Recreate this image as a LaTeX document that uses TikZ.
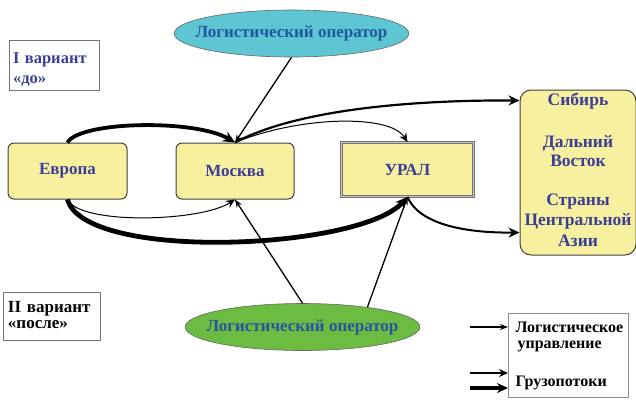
\documentclass[tikz,border=0pt]{standalone}
\usepackage{fontspec}
\setmainfont{Liberation Serif}
\usetikzlibrary{shapes.geometric,arrows.meta}
\definecolor{boxfill}{HTML}{F7F09E}
\definecolor{boxtext}{HTML}{3C3E96}
\definecolor{elltext}{HTML}{2356A0}
\definecolor{cyanfill}{HTML}{5EC6D2}
\definecolor{greenfill}{HTML}{6CBC42}
\tikzset{
  fnt/.style={font=\bfseries\fontsize{17}{19}\selectfont},
  rbox/.style={fnt, draw=black!75, line width=1pt, fill=boxfill, rounded corners=6pt, text=boxtext},
  oval/.style={fnt, ellipse, draw=black!60, line width=0.6pt, text=elltext, inner xsep=-13pt, inner ysep=0pt},
  frame/.style={draw=black!55, line width=0.8pt, fill=white},
  legtext/.style={anchor=west, text=black, font=\bfseries\fontsize{16}{18}\selectfont},
  flowA/.style={-{Stealth[length=9pt,width=8pt]}, line width=1pt},
  flowB/.style={-{Stealth[length=11pt,width=10pt]}, line width=2.2pt},
  flowC/.style={-{Stealth[length=12pt,width=11pt]}, line width=3.8pt},
  mgmt/.style={-{Stealth[length=8pt,width=6pt]}, line width=1.3pt},
}
\begin{document}
\begin{tikzpicture}[x=1pt,y=-1pt]
\useasboundingbox (0,0) rectangle (636,399);
% labels
\draw[frame] (9,40) rectangle (99,90);
\node[text=boxtext, align=left, text width=82pt, inner sep=0pt, font=\bfseries\fontsize{16.5}{20}\selectfont] (v1) at (54,70) {I вариант\\«до»};
\draw[frame] (3,292) rectangle (100,340);
\node[text=black, align=left, text width=88pt, inner sep=0pt, font=\bfseries\fontsize{17}{15.5}\selectfont] (v2) at (52,315) {II вариант\\«после»};
% boxes
\node[rbox, minimum width=119pt, minimum height=56pt] (eu) at (67.5,171) {Европа};
\node[rbox, minimum width=118pt, minimum height=56pt] (mos) at (235,171) {Москва};
\node[fnt, draw=gray!90!black, double=gray!45, double distance=1.2pt, line width=0.8pt, fill=boxfill, text=boxtext, minimum width=132pt, minimum height=54pt] (ural) at (407.5,169.5) {УРАЛ};
\node[rbox, rounded corners=11pt, minimum width=116pt, minimum height=165pt, align=center, inner sep=0pt] (rb) at (578,172.5) {};
\node[text=boxtext, align=center, font=\bfseries\fontsize{17.5}{19}\selectfont] (t1) at (578,101) {Сибирь};
\node[text=boxtext, align=center, font=\bfseries\fontsize{17.5}{19}\selectfont] (t2) at (578,151) {Дальний\\Восток};
\node[text=boxtext, align=center, font=\bfseries\fontsize{17.5}{20.5}\selectfont] (t3) at (578,220) {Страны\\Центральной\\Азии};
% ellipses
\node[oval, fill=cyanfill, minimum width=233pt, minimum height=47pt] (lo1) at (291.5,33.5) {Логистический оператор};
\node[oval, fill=greenfill, minimum width=233pt, minimum height=47pt] (lo2) at (302.5,327) {Логистический оператор};
% legend
\draw[black!45, line width=0.8pt, fill=white] (508,313) rectangle (628,397);
\node[legtext] (lg1) at (512,327) {Логистическое};
\node[legtext] (lg2) at (514,346) {управление};
\node[legtext] (lg3) at (512,383) {Грузопотоки};
\coordinate (la1) at (470,327);
\coordinate (lb1) at (508,327);
\coordinate (la2) at (470,373);
\coordinate (lb2) at (508,373);
\coordinate (la3) at (470,388);
\coordinate (lb3) at (508,388);
\draw[mgmt] (la1) -- (lb1);
\draw[-{Stealth[length=9pt,width=8pt]}, line width=2pt] (la2) -- (lb2);
\draw[-{Stealth[length=11pt,width=10pt]}, line width=3.5pt] (la3) -- (lb3);
% flows
\draw[flowC] (eu.north) .. controls (80,121) and (195,119) .. (mos.north);
\draw[flowB] (mos.north) .. controls (300,108) and (420,100) .. ([yshift=72pt]rb.west);
\draw[flowA] (mos.north) .. controls (300,116) and (390,114) .. (ural.north);
\draw[flowA] (eu.south) .. controls (80,225) and (200,222) .. (mos.south);
\draw[flowC, line width=4.8pt] (eu.south) .. controls (85,262) and (360,250) .. (ural.south);
\draw[flowB, line width=2pt] (ural.south) .. controls (420,226) and (470,233) .. ([yshift=-60pt]rb.west);
% management
\draw[mgmt] (lo1.south) -- (mos.north);
\draw[mgmt] (lo2.north) -- (mos.south);
\draw[mgmt] (lo2.17) -- (ural.south);
\end{tikzpicture}
\end{document}
